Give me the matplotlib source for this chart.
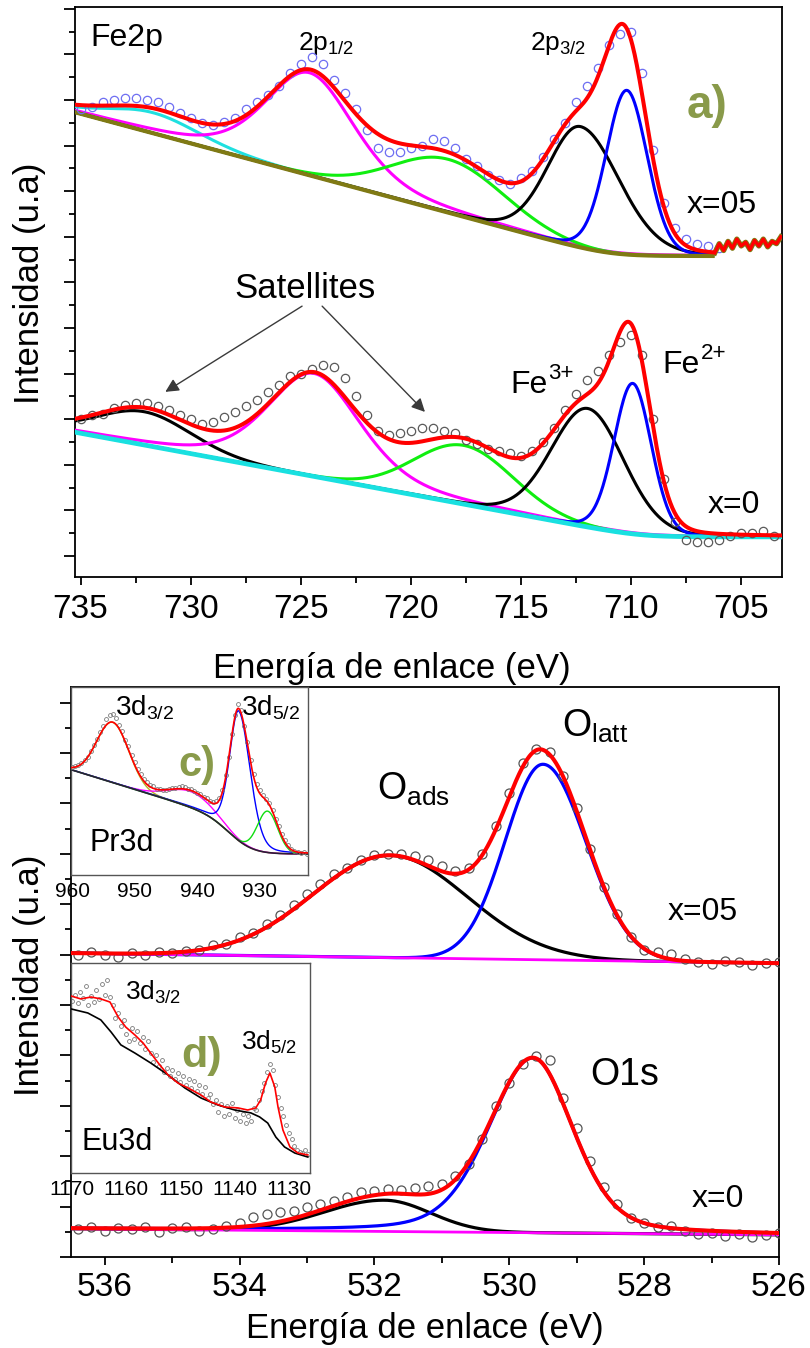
import numpy as np
import matplotlib
matplotlib.use("Agg")
import matplotlib.pyplot as plt
from matplotlib.ticker import MultipleLocator

plt.rcParams["font.family"] = ["Liberation Sans", "DejaVu Sans"]
plt.rcParams["mathtext.fontset"] = "custom"
plt.rcParams["mathtext.rm"] = "Liberation Sans"
plt.rcParams["mathtext.it"] = "Liberation Sans:italic"
plt.rcParams["mathtext.bf"] = "Liberation Sans:bold"
plt.rcParams["axes.linewidth"] = 1.3

# -----------------------------
# Fe2p spectra (panel a)
# -----------------------------
fe05_energy = np.round(np.arange(735.0, 705.9, -0.5), 1)
fe05_counts = [9.80, 9.85, 9.95, 10.00, 10.05, 10.05, 10.00, 9.95, 9.85, 9.72,
               9.60, 9.50, 9.45, 9.52, 9.60, 9.80, 9.95, 10.12, 10.30, 10.60,
               10.80, 10.95, 10.80, 10.45, 10.15, 9.80, 9.35, 8.95, 8.85, 8.85,
               8.95, 9.00, 9.15, 9.10, 8.95, 8.70, 8.55, 8.35, 8.25, 8.15,
               8.30, 8.45, 8.75, 9.15, 9.50, 9.95, 10.30, 10.70, 11.20, 11.45,
               11.50, 10.60, 8.90, 7.75, 7.20, 6.95, 6.85, 6.80, 6.75]
fe05_tail_energy = np.round(np.arange(706.2, 703.1, -0.2), 1)
fe05_tail_counts = [6.65, 6.85, 6.70, 6.90, 6.75, 6.95, 6.80, 6.88,
                    6.72, 6.92, 6.80, 6.95, 6.78, 6.90, 6.85, 7.00]

fe0_energy = np.round(np.arange(735.0, 703.4, -0.5), 1)
fe0_counts = [3.00, 3.10, 3.12, 3.25, 3.32, 3.35, 3.35, 3.30, 3.20, 3.10,
              3.00, 2.90, 2.95, 3.05, 3.15, 3.30, 3.42, 3.60, 3.75, 3.95,
              4.00, 4.10, 4.20, 4.15, 3.90, 3.50, 3.10, 2.75, 2.65, 2.70,
              2.75, 2.80, 2.80, 2.75, 2.70, 2.55, 2.45, 2.35, 2.30, 2.25,
              2.20, 2.30, 2.50, 2.80, 3.20, 3.55, 3.85, 4.05, 4.40, 4.70,
              4.85, 4.40, 3.00, 1.70, 0.75, 0.35, 0.30, 0.30, 0.35, 0.45,
              0.50, 0.50, 0.55, 0.45]

# baseline: flat level, slope above knee, knee energy, knee width
fe05_base = [6.58, 0.13, 711.0, 0.8]
# peaks: satellite 2p1/2, 2p1/2, satellite 2p3/2, Fe3+, Fe2+
fe05_center = [731.7, 724.6, 718.3, 712.3, 710.2]
fe05_height = [0.45, 2.25, 1.17, 2.65, 3.60]
fe05_fwhm_hi = [5.0, 4.8, 6.0, 3.5, 2.2]
fe05_fwhm_lo = [5.0, 4.8, 6.0, 4.2, 2.2]
fe05_eta = [0.2, 0.4, 0.0, 0.1, 0.1]
fe05_colors = ["#1fe0e0", "#ff00ff", "#10ee10", "black", "#0000ff"]

fe0_base = [0.42, 0.0895, 709.6, 0.8]
fe0_center = [732.1, 724.4, 717.6, 711.97, 709.93]
fe0_height = [0.73, 2.26, 1.29, 2.60, 3.30]
fe0_fwhm_hi = [5.0, 5.0, 5.3, 3.9, 2.0]
fe0_fwhm_lo = [5.0, 5.0, 5.3, 3.9, 2.0]
fe0_eta = [0.1, 0.4, 0.0, 0.1, 0.1]
fe0_colors = ["black", "#ff00ff", "#10ee10", "black", "#0000ff"]

# -----------------------------
# O1s spectra (panel b)
# -----------------------------
o1s_energy = np.round(np.arange(536.4, 525.9, -0.2), 1)
o05_counts = [6.00, 6.05, 6.00, 5.95, 6.03, 6.00, 6.05, 6.03, 6.08, 6.10,
              6.20, 6.22, 6.35, 6.42, 6.60, 6.78, 6.98, 7.20, 7.40, 7.60,
              7.72, 7.88, 7.98, 8.00, 8.00, 7.95, 7.88, 7.75, 7.65, 7.72,
              8.00, 8.55, 9.20, 9.80, 10.08, 10.02, 9.55, 8.90, 8.10, 7.35,
              6.80, 6.35, 6.10, 6.05, 6.02, 5.92, 5.85, 5.82, 5.88, 5.86,
              5.80, 5.84, 5.86]
o0_counts = [0.55, 0.60, 0.52, 0.58, 0.55, 0.60, 0.50, 0.57, 0.60, 0.52,
             0.55, 0.62, 0.68, 0.80, 0.85, 0.90, 0.92, 1.00, 1.05, 1.12,
             1.20, 1.28, 1.30, 1.35, 1.33, 1.37, 1.40, 1.45, 1.60, 1.85,
             2.35, 3.00, 3.45, 3.82, 3.98, 3.90, 3.15, 2.55, 1.90, 1.38,
             1.05, 0.78, 0.68, 0.60, 0.62, 0.52, 0.45, 0.48, 0.42, 0.45,
             0.40, 0.43, 0.48]

# linear baseline at 536.5 eV and 526 eV
o05_base = [6.03, 5.83]
o05_center = [531.77, 529.5]
o05_height = [2.03, 3.88]
o05_fwhm_hi = [2.7, 1.32]
o05_fwhm_lo = [2.7, 1.5]
o05_eta = [0.0, 0.0]

o0_base = [0.56, 0.44]
o0_center = [531.85, 529.65]
o0_height = [0.62, 3.47]
o0_fwhm_hi = [2.1, 1.55]
o0_fwhm_lo = [1.6, 1.4]
o0_eta = [0.0, 0.3]
o1s_colors = ["black", "#0000ff"]

# -----------------------------
# Pr3d inset (c)
# -----------------------------
pr_energy = np.round(np.arange(960.0, 922.4, -0.5), 1)
pr_counts = [5.75, 5.78, 5.85, 5.95, 6.10, 6.30, 6.60, 6.90, 7.25, 7.60,
             7.95, 8.30, 8.50, 8.55, 8.35, 8.00, 7.65, 7.20, 6.85, 6.40,
             6.00, 5.65, 5.35, 5.10, 4.95, 4.80, 4.72, 4.60, 4.55, 4.50,
             4.52, 4.60, 4.62, 4.65, 4.70, 4.75, 4.68, 4.60, 4.55, 4.45,
             4.38, 4.30, 4.15, 4.08, 3.95, 3.90, 3.92, 4.10, 4.50, 5.30,
             6.30, 7.50, 8.50, 9.10, 8.80, 7.90, 7.05, 6.10, 5.35, 4.85,
             4.50, 4.25, 4.05, 3.85, 3.45, 3.00, 2.60, 2.20, 1.85, 1.60,
             1.40, 1.30, 1.20, 1.15, 1.20, 1.10]
# Shirley-type baseline: flat, slope, knee, knee width, step, step energy, step width
pr_base = [1.12, 0.103, 931.0, 1.5, 1.48, 935.0, 1.8]
pr_center = [953.5, 941.0, 933.4, 928.8]
pr_height = [3.2, 0.85, 6.9, 2.2]
pr_fwhm_hi = [6.0, 8.5, 3.4, 3.8]
pr_fwhm_lo = [6.0, 8.5, 4.3, 3.8]
pr_eta = [0.0, 0.0, 0.2, 0.0]
pr_colors = ["#b8b020", "#ff00ff", "#0000ff", "#10dd10"]

# -----------------------------
# Eu3d inset (d)
# -----------------------------
eu_energy = np.round(np.arange(1170.0, 1126.4, -0.5), 1)
eu_counts = [8.20, 8.50, 8.10, 8.60, 8.35, 8.90, 8.00, 8.45, 8.15, 8.70,
             8.30, 9.00, 8.50, 9.20, 8.40, 8.00, 7.40, 7.60, 7.00, 7.30,
             6.60, 6.30, 6.90, 6.40, 6.75, 6.20, 6.50, 5.90, 6.30, 5.70,
             5.30, 5.60, 5.10, 5.40, 4.80, 5.00, 4.60, 4.90, 4.50, 4.75,
             4.35, 4.60, 4.20, 4.50, 4.05, 4.40, 3.90, 4.20, 3.75, 4.10,
             3.55, 3.75, 3.30, 3.50, 2.90, 3.30, 2.70, 3.20, 2.80, 3.35,
             2.60, 3.00, 2.50, 2.80, 2.40, 2.70, 2.50, 3.10, 3.00, 3.50,
             3.90, 4.30, 4.80, 5.20, 4.90, 4.20, 3.60, 3.10, 2.70, 2.30,
             1.90, 1.60, 1.30, 1.10, 1.00, 0.95, 1.10, 0.90]
eu_fit_energy = [1170.2, 1168.4, 1166.5, 1164.7, 1163.0, 1161.5, 1160.1, 1158.4,
                 1156.9, 1155.5, 1153.8, 1152.3, 1150.5, 1148.6, 1146.2, 1144.4,
                 1141.8, 1139.4, 1137.6, 1136.1, 1135.2, 1134.3, 1133.5, 1132.6,
                 1132.0, 1131.1, 1129.8, 1128.3, 1126.5]
eu_fit_counts = [8.43, 8.29, 8.38, 8.29, 8.14, 7.43, 6.95, 6.57,
                 6.19, 5.71, 5.14, 4.67, 4.29, 4.05, 3.71, 3.38,
                 3.14, 3.10, 3.00, 3.10, 3.48, 4.29, 4.76, 4.10,
                 3.14, 2.05, 1.24, 0.95, 0.86]
eu_bg_energy = [1170.15, 1167.1, 1164.7, 1162.8, 1161.0, 1158.4, 1155.5, 1152.3,
                1149.2, 1146.2, 1143.1, 1140.0, 1137.0, 1135.4, 1133.9, 1132.4,
                1130.8, 1128.9, 1126.5]
eu_bg_counts = [7.81, 7.62, 7.29, 6.71, 6.10, 5.71, 5.24, 4.67,
                4.05, 3.57, 3.24, 3.00, 2.86, 2.67, 2.38, 1.71,
                1.24, 0.95, 0.76]

tag_color = "#899a4a"


def baseline(e, flat, slope, knee, width, step=0.0, e_step=0.0, w_step=1.0):
    b = flat + slope * width * np.logaddexp(0.0, (e - knee) / width)
    return b + step / (1.0 + np.exp(-(e - e_step) / w_step))


def line_shape(e, c, h, f_hi, f_lo, eta):
    # pseudo-Voigt with separate widths on each side of the centre
    f = np.where(e >= c, f_hi, f_lo)
    d = (e - c) / f
    return h * ((1 - eta) * np.exp(-4 * np.log(2) * d ** 2) + eta / (1 + 4 * d ** 2))


def components(e, center, height, fwhm_hi, fwhm_lo, eta):
    return [line_shape(e, *p) for p in zip(center, height, fwhm_hi, fwhm_lo, eta)]


def ion_label(ax, x, y, base, charge, size):
    # element symbol with a raised charge next to it
    ax.text(x, y, base, fontsize=size, ha="left", va="baseline")
    ax.annotate(charge, xy=(x, y), xytext=(size * 1.19, size * 0.45),
                textcoords="offset points", fontsize=size * 0.7,
                ha="left", va="baseline")


fig = plt.figure(figsize=(8.1, 13.48), dpi=100)
txt = dict(ha="left", va="baseline")

# -----------------------------
# Panel a: Fe2p
# -----------------------------
ax = fig.add_axes([75 / 810, 1 - 577 / 1348, 707 / 810, 570 / 1348])

e = np.linspace(735.25, 706.3, 900)
base = baseline(e, *fe05_base)
comps = components(e, fe05_center, fe05_height, fe05_fwhm_hi, fe05_fwhm_lo, fe05_eta)
for comp, col in zip(comps, fe05_colors):
    ax.plot(e, base + comp, color=col, lw=2.2, zorder=3)
ax.plot(e, base, color="#807a14", lw=3.0, zorder=3.5)
ax.plot(fe05_energy, fe05_counts, "o", ms=6, mfc="none", mec="#6e6ef2", mew=0.9, zorder=4)
ax.plot(e, base + sum(comps), color="red", lw=2.9, zorder=5)
ax.plot(fe05_tail_energy, fe05_tail_counts, color="#807a14", lw=3.8, zorder=4)
ax.plot(fe05_tail_energy, fe05_tail_counts, color="red", lw=2.4, zorder=5)

e0 = np.linspace(735.25, 703.15, 1000)
base0 = baseline(e0, *fe0_base)
comps0 = components(e0, fe0_center, fe0_height, fe0_fwhm_hi, fe0_fwhm_lo, fe0_eta)
for comp, col in zip(comps0, fe0_colors):
    ax.plot(e0, base0 + comp, color=col, lw=2.2, zorder=3)
ax.plot(e0, base0, color="#19e0e0", lw=3.4, zorder=3.5)
ax.plot(fe0_energy, fe0_counts, "o", ms=6, mfc="none", mec="#5a5a5a", mew=0.9, zorder=4)
ax.plot(e0, base0 + sum(comps0), color="red", lw=2.9, zorder=5)

ax.set_xlim(735.25, 703.15)
ax.set_ylim(-0.46, 12.04)
ax.xaxis.set_major_locator(MultipleLocator(5))
ax.xaxis.set_minor_locator(MultipleLocator(2.5))
ax.yaxis.set_major_locator(MultipleLocator(1))
ax.yaxis.set_minor_locator(MultipleLocator(0.5))
ax.tick_params(axis="x", which="major", direction="out", length=6, width=1.3, labelsize=24, pad=6)
ax.tick_params(axis="x", which="minor", direction="out", length=4.5, width=1.3)
ax.tick_params(axis="y", which="major", direction="out", length=8, width=1.3, labelleft=False)
ax.tick_params(axis="y", which="minor", direction="out", length=4, width=1.3)

ax.text(734.55, 11.19, "Fe2p", fontsize=23, **txt)
ax.text(725.13, 11.1, r"2p$_{\mathregular{1/2}}$", fontsize=19, **txt)
ax.text(714.6, 11.1, r"2p$_{\mathregular{3/2}}$", fontsize=19, **txt)
ax.text(707.48, 9.6, "a)", fontsize=33, fontweight="bold", color=tag_color, **txt)
ax.text(707.48, 7.52, "x=05", fontsize=23, **txt)
ax.text(724.8, 5.66, "Satellites", fontsize=25, ha="center", va="baseline")
arrow = dict(arrowstyle="-|>", color="#3a3a3a", lw=1.0, mutation_scale=20, shrinkA=0, shrinkB=0)
ax.annotate("", xy=(731.15, 3.6), xytext=(724.94, 5.48), arrowprops=arrow)
ax.annotate("", xy=(719.36, 3.16), xytext=(724.03, 5.48), arrowprops=arrow)
ion_label(ax, 715.5, 3.57, "Fe", "3+", 23)
ion_label(ax, 708.57, 4.01, "Fe", "2+", 23)
ax.text(706.53, 0.94, "x=0", fontsize=23, **txt)

# -----------------------------
# Panel b: O1s
# -----------------------------
axb = fig.add_axes([71 / 810, 1 - 1257 / 1348, 708 / 810, 570 / 1348])
eo = np.linspace(536.5, 526.0, 900)
for b_pair, cen, hgt, fhi, flo, eta, pts in [
        (o05_base, o05_center, o05_height, o05_fwhm_hi, o05_fwhm_lo, o05_eta, o05_counts),
        (o0_base, o0_center, o0_height, o0_fwhm_hi, o0_fwhm_lo, o0_eta, o0_counts)]:
    lin = b_pair[0] + (b_pair[1] - b_pair[0]) * (536.5 - eo) / 10.5
    cps = components(eo, cen, hgt, fhi, flo, eta)
    for comp, col in zip(cps, o1s_colors):
        axb.plot(eo, lin + comp, color=col, lw=2.3, zorder=3)
    axb.plot(eo, lin, color="#ff00ff", lw=2.0, zorder=3.5)
    axb.plot(o1s_energy, pts, "o", ms=6.5, mfc="none", mec="#555555", mew=0.9, zorder=4)
    axb.plot(eo, lin + sum(cps), color="red", lw=2.9, zorder=5)

axb.set_xlim(536.5, 526.0)
axb.set_ylim(0, 11.31)
axb.xaxis.set_major_locator(MultipleLocator(2))
axb.xaxis.set_minor_locator(MultipleLocator(1))
axb.yaxis.set_major_locator(MultipleLocator(1))
axb.yaxis.set_minor_locator(MultipleLocator(0.5))
axb.tick_params(axis="x", which="major", direction="out", length=6, width=1.3, labelsize=24, pad=5)
axb.tick_params(axis="x", which="minor", direction="out", length=4.5, width=1.3)
axb.tick_params(axis="y", which="major", direction="out", length=8, width=1.3, labelleft=False)
axb.tick_params(axis="y", which="minor", direction="out", length=4, width=1.3)

axb.text(531.96, 9.07, r"O$_{\mathregular{ads}}$", fontsize=27, **txt)
axb.text(529.22, 10.32, r"O$_{\mathregular{latt}}$", fontsize=27, **txt)
axb.text(528.8, 3.41, "O1s", fontsize=27, **txt)
axb.text(527.65, 6.69, "x=05", fontsize=23, **txt)
axb.text(527.29, 0.99, "x=0", fontsize=23, **txt)

# -----------------------------
# Inset c: Pr3d
# -----------------------------
axc = fig.add_axes([71 / 810, 1 - 875 / 1348, 237 / 810, 188 / 1348])
ep = np.linspace(960.16, 922.34, 700)
bp = baseline(ep, *pr_base)
cp = components(ep, pr_center, pr_height, pr_fwhm_hi, pr_fwhm_lo, pr_eta)
for comp, col in zip(cp, pr_colors):
    axc.plot(ep, bp + comp, color=col, lw=1.0, zorder=3)
axc.plot(ep, bp, color="#2a1f35", lw=1.2, zorder=3.5)
axc.plot(pr_energy, pr_counts, "o", ms=2.8, mfc="none", mec="#7a7a7a", mew=0.6, zorder=4)
axc.plot(ep, bp + sum(cp), color="red", lw=1.2, zorder=5)
axc.set_xlim(960.16, 922.34)
axc.set_ylim(0, 10)
axc.set_yticks([])
axc.set_xticks([960, 950, 940, 930])
axc.tick_params(axis="x", length=0, labelsize=15, pad=5)
for s in axc.spines.values():
    s.set_color("#555555")
    s.set_linewidth(1.0)
axc.text(953.19, 8.47, r"3d$_{\mathregular{3/2}}$", fontsize=20, **txt)
axc.text(932.99, 8.47, r"3d$_{\mathregular{5/2}}$", fontsize=20, **txt)
axc.text(943.1, 5.27, "c)", fontsize=30, fontweight="bold", color=tag_color, **txt)
axc.text(957.18, 1.29, "Pr3d", fontsize=22, **txt)

# -----------------------------
# Inset d: Eu3d
# -----------------------------
axd = fig.add_axes([71 / 810, 1 - 1173 / 1348, 239 / 810, 210 / 1348])
axd.plot(eu_energy, eu_counts, "o", ms=2.8, mfc="none", mec="#7a7a7a", mew=0.6, zorder=2)
axd.plot(eu_bg_energy, eu_bg_counts, color="black", lw=1.2, zorder=3)
axd.plot(eu_fit_energy, eu_fit_counts, color="red", lw=1.2, zorder=4)
axd.set_xlim(1170.2, 1126.1)
axd.set_ylim(0, 10)
axd.set_yticks([])
axd.set_xticks([1170, 1160, 1150, 1140, 1130])
axd.tick_params(axis="x", length=0, labelsize=15, pad=5)
for s in axd.spines.values():
    s.set_color("#555555")
    s.set_linewidth(1.0)
axd.text(1160.3, 8.24, r"3d$_{\mathregular{3/2}}$", fontsize=19, **txt)
axd.text(1149.9, 5.06, "d)", fontsize=31, fontweight="bold", color=tag_color, **txt)
axd.text(1138.8, 5.86, r"3d$_{\mathregular{5/2}}$", fontsize=19, **txt)
axd.text(1168.3, 1.1, "Eu3d", fontsize=22, **txt)

# axis titles
fig.text(392 / 810, 1 - 678 / 1348, "Energía de enlace (eV)", fontsize=25, ha="center", va="baseline")
fig.text(425 / 810, 1 - 1338 / 1348, "Energía de enlace (eV)", fontsize=25, ha="center", va="baseline")
fig.text(30 / 810, 1 - 283 / 1348, "Intensidad (u.a)", fontsize=25, rotation=90, ha="center", va="center")
fig.text(30 / 810, 1 - 975 / 1348, "Intensidad (u.a)", fontsize=25, rotation=90, ha="center", va="center")

fig.savefig("out.png", dpi=100)
